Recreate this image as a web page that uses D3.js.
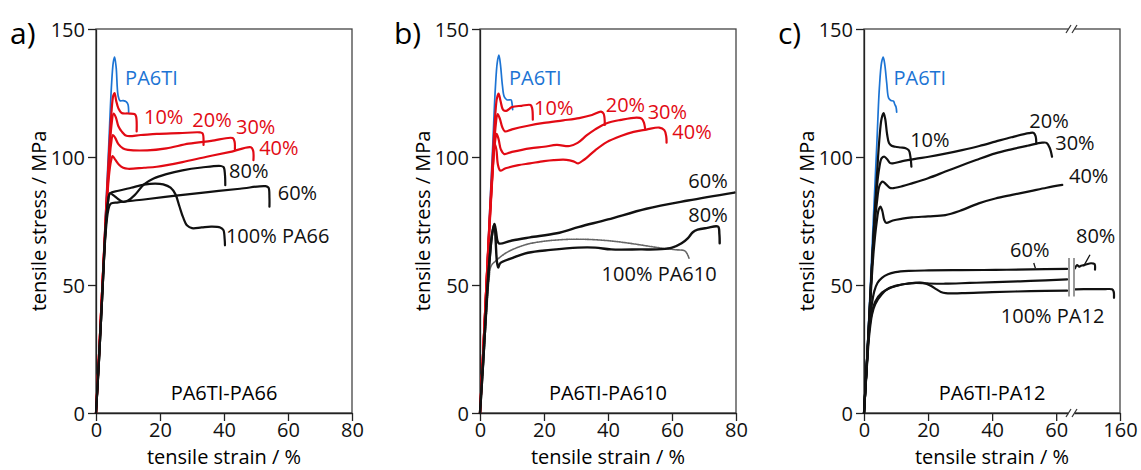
<!DOCTYPE html>
<html>
<head>
<meta charset="utf-8">
<script src="https://cdn.jsdelivr.net/npm/d3@7"></script>
<style>
  body { margin: 0; background: #fff; }
  svg { display: block; font-family: "Open Sans", sans-serif; }
  .curve { fill: none; stroke-linejoin: round; stroke-linecap: round; }
  .frame { fill: none; stroke: #444; stroke-width: 1.3; }
  .axis text { font-family: "Open Sans", sans-serif; font-size: 20px; fill: #111; }
  .axis line, .axis path { stroke: #222; stroke-width: 1.3; }
  .label { font-size: 20px; }
</style>
</head>
<body>
<svg id="chart" width="1141" height="470"></svg>
<script>
// colours
let blue = "#1c74d4";
let red = "#e20a14";
let black = "#111";

// ---- a) PA6TI-PA66 ----
let aPA6TI = [[0,0],[1,24],[2,50],[3,78],[4,105],[4.8,127],[5.4,137],[5.8,139],[6.3,135],[6.9,124],[7.5,122],[8.5,122],[9.5,121.5],[10,120.5],[10.2,117.5]];
let a10 = [[0,0],[1,24],[2,50],[3,76],[4,100],[4.8,117],[5.4,124],[5.8,125],[6.3,122],[7,119],[8,117.2],[10,117],[12,116.8],[12.5,116],[12.7,110]];
let a20 = [[0,0],[1,24],[2,50],[3,75],[4,97],[4.8,112],[5.5,117],[6.2,115.5],[7,112],[8,110],[9.5,108.3],[14,108.6],[19,109],[26,109.3],[32.5,109.6],[33.3,109.2],[33.6,104.7]];
let a30 = [[0,0],[1,24],[2,50],[3,74],[4,95],[4.7,105],[5.3,108.6],[6,107.5],[7,105],[8.5,103.3],[10,102.8],[16,102.6],[22,103.4],[29,105.2],[36,106.3],[42.7,107.4],[43.3,106],[43.4,103]];
let a40 = [[0,0],[1,24],[2,50],[3,73],[4,92],[4.7,98.5],[5.2,100.4],[6,99],[7.2,97],[8.5,95.8],[10,95.4],[15,95.8],[19,96.2],[27,98],[34.6,100.1],[42,102],[48.4,103.8],[49.1,102.5],[49.2,98.8]];
let a60 = [[0,0],[1,22],[2,47],[3,70],[3.8,79],[4.6,81.8],[7,82.3],[15,83.4],[25,84.9],[35,86.3],[45,87.6],[53,88.6],[53.9,88],[54.2,84],[54.2,80.6]];
let a80 = [[0,0],[1,22],[2,47],[3,72],[3.7,82],[4.4,85.8],[5.5,85],[7,83.5],[8.5,82.5],[10,83],[12,85],[15,89.3],[18,91.6],[22,93.3],[27,94.8],[33,95.9],[39,96.5],[39.9,96],[40.3,93],[40.4,89]];
let a100 = [[0,0],[1,22],[2,47],[3,72],[3.7,82],[4.4,85.8],[7,86.8],[11,88],[15,89.2],[18.5,89.6],[21,89.3],[23.3,88],[24.8,85.5],[26,81],[27.2,76.5],[28.5,73.2],[30,72.2],[33,72.5],[36,72.8],[38.8,72.5],[39.8,71.5],[40.2,68],[40.3,65.5]];

// ---- b) PA6TI-PA610 ----
let bPA6TI = [[0,0],[1,24],[2,50],[3,78],[4,105],[4.8,127],[5.4,137],[5.9,139.8],[6.4,136],[7,128],[7.6,123.5],[8.5,122.3],[9.7,122.3],[10,121],[10.2,118.5]];
let b10 = [[0,0],[1,24],[2,50],[3,76],[4,100],[4.8,117],[5.3,123],[5.8,124.8],[6.4,122],[7.2,118.5],[8.2,118],[10,119.5],[13,120],[15.8,120.3],[16.3,119],[16.5,114.6]];
let b20 = [[0,0],[1,24],[2,50],[3,75],[4,96],[4.8,111],[5.5,116.8],[6.2,115],[7,111.5],[7.8,110],[10,110.8],[15,112.2],[20,113.3],[26,114.3],[31,115.2],[35,116.4],[37.8,117.7],[38.6,117],[39,112.5]];
let b30 = [[0,0],[1,24],[2,50],[3,74],[4,96],[4.6,105],[5.2,109],[5.8,107],[6.5,103],[7.5,101.2],[10,102],[15.6,103.4],[20,104],[24,104.7],[28,104.3],[30.5,105.5],[33.3,108.4],[36,110.8],[39.6,113.2],[44,114.5],[49,115.4],[50.5,115],[51.2,113.5],[51.6,111.2]];
let b40 = [[0,0],[1,24],[2,50],[3,73],[4,95],[4.6,105],[5.1,103],[5.6,97],[6.3,94.7],[8,95.6],[12,96.8],[15.6,97.5],[20,98.4],[23,98.8],[27,98.9],[29.2,98.3],[30.7,97.5],[32,98.5],[33.3,99.7],[36,102.6],[39.6,105.8],[44,108.2],[48,109.8],[52,110.7],[56,111.5],[57.6,110.5],[58.2,108],[58.3,105.6]];
let b60 = [[0,0],[1,20],[2,42],[3,60],[3.8,70],[4.5,73.8],[5,71],[5.5,67],[6,66.2],[10,67.4],[15.6,68.6],[24,70.2],[31,72.7],[40,75.6],[52,79.8],[65,83],[79.5,86.1]];
let b80 = [[0,0],[1,20],[2,42],[3,60],[3.8,70],[4.5,73.8],[4.9,67],[5.3,59],[5.7,56.8],[6.3,58.5],[10,60.5],[15,62.6],[22,63.7],[30.6,64.6],[36,64.6],[41,63.9],[50,63.9],[56.7,64],[60,64.6],[63,66.3],[65,68.3],[66.5,70.6],[68,71.6],[71,72.3],[74.4,72.8],[74.8,70],[74.9,66.3]];
let b100 = [[0,0],[1,18],[2,38],[2.8,52],[3.5,57.5],[5,59.5],[7.7,62.2],[11,64.3],[15,66],[20,67.1],[25.4,67.7],[30,67.9],[35.8,67.7],[41,67.2],[46.2,66.4],[51,65.5],[56.7,64.4],[61,63.8],[64,63.3],[65,61.5],[65.3,60.5]];

// ---- c) PA6TI-PA12 (x axis broken between 64 and 114) ----
let cPA6TI = [[0,0],[1,24],[2,50],[3,78],[4,105],[4.8,127],[5.5,137],[6,139],[6.5,136],[7.1,128.8],[7.7,123],[8.4,122.1],[9.2,121.8],[9.6,120.6],[10,119.5],[10.2,117.5]];
let c10 = [[0,0],[1,22],[2,46],[3,70],[4,92],[4.8,107],[5.5,115],[6.1,117.1],[6.6,115],[7.2,109],[7.8,105.5],[8.6,104.4],[9.8,104],[11.5,103.7],[13,103.4],[14,102.6],[14.5,100],[14.8,96.2]];
let c20 = [[0,0],[1,22],[2,46],[3,70],[4,88],[4.8,96],[5.5,99.5],[6.4,100.1],[7.3,99],[8.2,97.6],[9,97.5],[12,98.4],[16,99.3],[20.2,100.1],[25,101.2],[30.6,102.7],[36,104.3],[41,106],[46,107.7],[51.5,109.3],[53,109.4],[53.6,108],[53.8,105.3]];
let c30 = [[0,0],[1,22],[2,46],[3,68],[4,82],[4.9,89],[5.8,90.4],[6.8,89.4],[8,88],[8.8,87.8],[12,88.6],[15,89.7],[20,91.7],[25.4,94.3],[30,96.5],[35,98.8],[41,101.4],[46,103],[51,104.4],[55.6,105.6],[57,105.5],[58,103.5],[58.7,100.1]];
let c40 = [[0,0],[1,21],[2,44],[3,63],[4,75],[4.6,79.5],[5.1,80.6],[5.7,79],[6.3,75.5],[6.9,74.3],[9,75.2],[12,75.9],[15,76.4],[20,76.8],[25.4,77.3],[30,79],[35.8,81.9],[41,83.8],[46.2,85.2],[52,86.7],[57,88],[61.9,89.1]];
let c60 = [[0,0],[0.8,18],[1.6,33],[2.4,42],[3.2,47.5],[4.2,50.8],[5.6,52.8],[7.5,54.2],[9.8,55],[14,55.5],[20.2,55.7],[30,55.8],[41,55.9],[52,56.1],[63.4,56.3]];
let c80 = [[0,0],[0.8,17],[1.6,32],[2.5,39.5],[3.5,43.5],[5.6,47],[8.5,49],[11.9,50.2],[16,50.8],[20,50.6],[25.4,50.5],[33,50.8],[41,51.1],[52,51.6],[63.4,52.2]];
let c80tail = [[115,56.5],[117,57.8],[119,57.2],[121,57.5],[126,58],[131,58.5],[134.5,58.2],[135,56]];
let c100 = [[0,0],[0.8,16],[1.6,30],[2.5,38.5],[3.5,42.5],[5.5,46.3],[7.7,48.7],[11,50],[15,50.7],[17.5,50.9],[19.2,50.6],[21,49.6],[22.5,48.4],[24,47.3],[25.5,46.8],[30.6,46.8],[40,47.2],[52,47.6],[63.4,47.8]];
let c100tail = [[115,48.3],[130,48.4],[145,48.4],[152,48.3],[153.6,47.5],[154,45]];

// axes
let yTicks = [0, 50, 100, 150];
let xTicksAB = [0, 20, 40, 60, 80];
let xTicksC = [0, 20, 40, 60, 160];

// curve labels [text, strain, stress]
let labelsA = [["PA6TI",9.1,128.1,blue],["10%",15,112.9,red],["20%",30.1,111.6,red],["30%",43.75,109,red],["40%",51,100.8,red],["80%",41.6,91.7,black],["60%",56.8,83.2,black],["100% PA66",40.6,66.3,black]];
let labelsB = [["PA6TI",9.06,128.1,blue],["10%",16.9,116.4,red],["20%",39.3,117.7,red],["30%",52.4,114.8,red],["40%",60.1,106.9,red],["60%",65.1,87.7,black],["80%",65.1,74.5,black],["100% PA610",38,51.6,black]];
let labelsC = [["PA6TI",9.2,128.1,blue],["10%",14.4,104,black],["20%",51.6,111.4,black],["30%",59.7,102.7,black],["40%",64,89.7,black],["60%",45.6,60.8,black],["80%",116,66.3,black],["100% PA12",42.7,35.3,black]];
let pointersC = [[[53,58.6],[53.5,56.6]], [[130,61.8],[123.5,57.3]]];
let breakBarsC = [64, 114];

// layout
let plotTop = 29;
let plotW = 256;
let plotH = 384;

let svg = d3.select("#chart");

let y = d3.scaleLinear().domain([0, 150]).range([plotH, 0]);

let panels = [
  {
    tag: "a)", title: "PA6TI-PA66", left: 96,
    x: d3.scaleLinear().domain([0, 80]).range([0, plotW]),
    ticks: xTicksAB,
    series: [
      [aPA6TI, blue, 1.7], [a10, red, 2.2], [a20, red, 2.2], [a30, red, 2.2], [a40, red, 2.2],
      [a60, black, 2.2], [a80, black, 2.2], [a100, black, 2.2]
    ],
    labels: labelsA
  },
  {
    tag: "b)", title: "PA6TI-PA610", left: 480,
    x: d3.scaleLinear().domain([0, 80]).range([0, plotW]),
    ticks: xTicksAB,
    series: [
      [bPA6TI, blue, 1.7], [b10, red, 2.2], [b20, red, 2.2], [b30, red, 2.2], [b40, red, 2.2],
      [b100, "#666", 1.6, "1.3,1"], [b60, black, 2.4], [b80, black, 2.4]
    ],
    labels: labelsB
  },
  {
    tag: "c)", title: "PA6TI-PA12", left: 864,
    x: d3.scaleLinear().domain([0, 64, 114, 160]).range([0, 205, 210, plotW]),
    ticks: xTicksC,
    series: [
      [cPA6TI, blue, 1.7], [c10, black, 2.2], [c20, black, 2.2], [c30, black, 2.2], [c40, black, 2.2],
      [c60, black, 2.2], [c80, black, 2.2], [c80tail, black, 2.2], [c100, black, 2.2], [c100tail, black, 2.2]
    ],
    labels: labelsC,
    broken: true
  }
];

panels.forEach(p => drawPanel(p));

function drawPanel(p) {
  let x = p.x;

  let root = svg.append("g")
      .attr("transform", `translate(${p.left},${plotTop})`);

  // panel tag
  svg.append("text")
      .attr("x", p.left - 86)
      .attr("y", 44)
      .style("font-size", "30px")
      .text(p.tag);

  // frame
  root.append("rect")
      .attr("class", "frame")
      .attr("width", plotW)
      .attr("height", plotH);

  // axes
  root.append("g")
      .attr("class", "axis")
      .call(d3.axisLeft(y).tickValues(yTicks).tickSize(8).tickSizeOuter(0).tickPadding(3))
      .call(g => g.selectAll("text").attr("dy", "0.36em"));

  root.append("g")
      .attr("class", "axis")
      .attr("transform", `translate(0,${plotH})`)
      .call(d3.axisBottom(x).tickValues(p.ticks).tickSize(8).tickSizeOuter(0).tickPadding(2))
      .call(g => g.selectAll("text").attr("dy", "0.72em"));

  root.selectAll(".axis").attr("font-size", null).attr("font-family", null);

  // axis titles
  root.append("text")
      .attr("transform", `translate(-50,${plotH / 2}) rotate(-90)`)
      .attr("text-anchor", "middle")
      .style("font-size", "20px")
      .text("tensile stress / MPa");

  root.append("text")
      .attr("x", plotW / 2)
      .attr("y", plotH + 51)
      .attr("text-anchor", "middle")
      .style("font-size", "20px")
      .text("tensile strain / %");

  // panel title
  root.append("text")
      .attr("x", plotW / 2)
      .attr("y", 371)
      .attr("text-anchor", "middle")
      .style("font-size", "20px")
      .text(p.title);

  // curves
  let line = d3.line()
      .x(d => x(d[0]))
      .y(d => y(d[1]))
      .curve(d3.curveCatmullRom.alpha(0.5));

  root.append("g")
    .selectAll("path")
    .data(p.series)
    .join("path")
      .attr("class", "curve")
      .attr("d", d => line(d[0]))
      .attr("stroke", d => d[1])
      .attr("stroke-width", d => d[2])
      .attr("stroke-dasharray", d => d[3] || null);

  // curve labels
  root.append("g")
    .selectAll("text")
    .data(p.labels)
    .join("text")
      .attr("class", "label")
      .attr("x", d => x(d[1]))
      .attr("y", d => y(d[2]))
      .attr("fill", d => d[3])
      .text(d => d[0]);

  if (p.broken) {
    // pointer ticks for 60% / 80%
    root.append("g")
      .selectAll("path")
      .data(pointersC)
      .join("path")
        .attr("d", d => d3.line().x(e => x(e[0])).y(e => y(e[1]))(d))
        .attr("stroke", black)
        .attr("stroke-width", 1.3);

    // gray break bars on the curves
    root.append("g")
      .selectAll("line")
      .data(breakBarsC)
      .join("line")
        .attr("x1", d => x(d))
        .attr("x2", d => x(d))
        .attr("y1", y(45.5))
        .attr("y2", y(60.5))
        .attr("stroke", "#999")
        .attr("stroke-width", 2);

    // axis break marks on top and bottom of frame
    let bx = (x(breakBarsC[0]) + x(breakBarsC[1])) / 2;
    [0, plotH].forEach(by => {
      root.append("rect")
          .attr("x", bx - 3)
          .attr("y", by - 3)
          .attr("width", 6)
          .attr("height", 6)
          .attr("fill", "#fff");
      [-3, 3].forEach(off => {
        root.append("line")
            .attr("x1", bx + off - 2.5)
            .attr("y1", by + 4)
            .attr("x2", bx + off + 2.5)
            .attr("y2", by - 4)
            .attr("stroke", "#333")
            .attr("stroke-width", 1.2);
      });
    });
  }
}
</script>
</body>
</html>
